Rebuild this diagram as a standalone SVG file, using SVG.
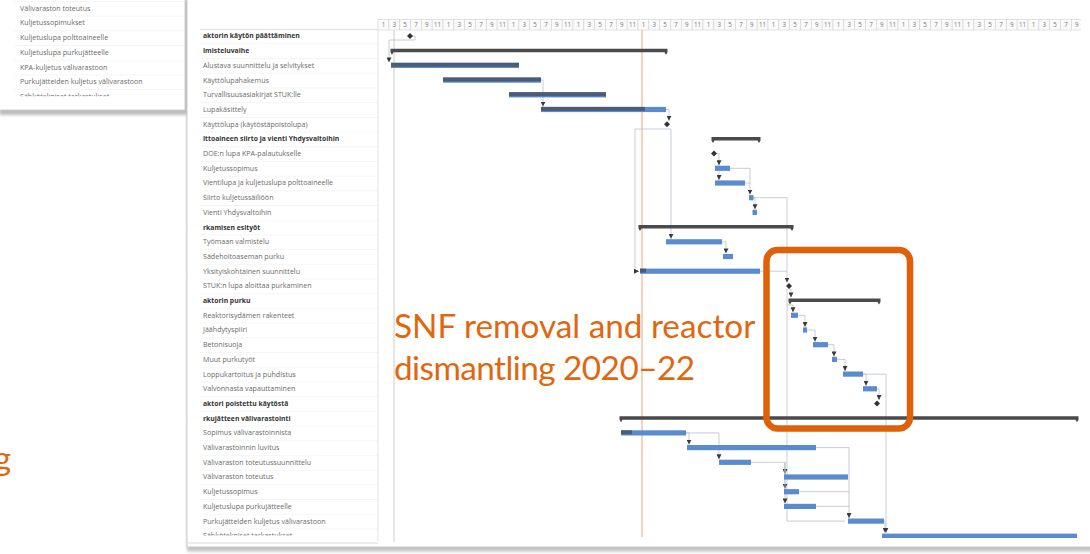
<svg xmlns="http://www.w3.org/2000/svg" xmlns:xlink="http://www.w3.org/1999/xlink" width="1090" height="554" viewBox="0 0 1090 554">
<defs>
<style>
.lbl{font-family:"Open Sans","Liberation Sans",sans-serif;font-size:7.1px;fill:#6a6a6a}
.b{font-weight:700;fill:#333;font-size:6.8px}
.hdr{font-family:"Open Sans","Liberation Sans",sans-serif;font-size:6.2px;fill:#777;text-anchor:middle}
.cell{fill:#fafafa;stroke:#d2d2d2;stroke-width:0.6}
.task{fill:#5b8bcf}
.done{fill:#4b5d76}
.sum{fill:#4a4a4a}
.ms{fill:#333}
.link{fill:none;stroke:#b9c0cc;stroke-width:0.8}
.note{font-family:Lato,"Open Sans",sans-serif;font-size:33.3px;fill:#E2660E}
</style>
<marker id="arr" markerWidth="5" markerHeight="5" refX="5" refY="2.5" orient="auto" markerUnits="userSpaceOnUse"><path d="M0,0 L5,2.5 L0,5 Z" fill="#3a3a3a"/></marker>
<pattern id="rows" width="20" height="14.7" patternUnits="userSpaceOnUse" patternTransform="translate(0,43.35)"><line x1="0" y1="0.3" x2="20" y2="0.3" stroke="#ececec" stroke-width="0.7"/></pattern>
<pattern id="rowsTL" width="20" height="14.7" patternUnits="userSpaceOnUse" patternTransform="translate(0,15.65)"><line x1="0" y1="0.3" x2="20" y2="0.3" stroke="#ececec" stroke-width="0.7"/></pattern>
<filter id="sh" x="-5%" y="-5%" width="110%" height="115%"><feGaussianBlur stdDeviation="1.5"/></filter>
<clipPath id="tableClip"><rect x="188" y="0" width="900" height="535.6"/></clipPath>
<clipPath id="listClip"><rect x="0" y="0" width="185" height="96.2"/></clipPath>
<clipPath id="hdrClip"><rect x="378" y="15" width="703" height="20"/></clipPath>
<g id="yr">
<rect class="cell" x="0" y="19.5" width="10.83" height="10.5"/>
<rect class="cell" x="10.83" y="19.5" width="10.83" height="10.5"/>
<rect class="cell" x="21.67" y="19.5" width="10.83" height="10.5"/>
<rect class="cell" x="32.5" y="19.5" width="10.83" height="10.5"/>
<rect class="cell" x="43.33" y="19.5" width="10.83" height="10.5"/>
<rect class="cell" x="54.17" y="19.5" width="10.83" height="10.5"/>
<text class="hdr" x="5.42" y="27.3">1</text>
<text class="hdr" x="16.25" y="27.3">3</text>
<text class="hdr" x="27.08" y="27.3">5</text>
<text class="hdr" x="37.92" y="27.3">7</text>
<text class="hdr" x="48.75" y="27.3">9</text>
<text class="hdr" x="59.58" y="27.3">11</text>
</g>
</defs>

<rect width="1090" height="554" fill="#fff"/>

<!-- small orange marks along the top edge -->
<rect x="457" y="0" width="4" height="2.5" fill="#E2660E"/>
<rect x="755" y="0" width="8" height="3" fill="#E2660E"/>
<rect x="900" y="0" width="6" height="3" fill="#E2660E"/>

<!-- task list panel, top left -->
<g id="task-list">
<rect x="-2" y="-2" width="189" height="115" fill="#bdbdbd" filter="url(#sh)" transform="translate(1.5,2)"/>
<rect x="-2" y="-2" width="187" height="112" fill="#fff" stroke="#c8c8c8" stroke-width="0.8"/>
<rect x="14" y="0" width="170" height="97" fill="url(#rowsTL)"/>
<g clip-path="url(#listClip)" class="lbl">
<text x="20" y="10.7">Välivaraston toteutus</text>
<text x="20" y="25.4">Kuljetussopimukset</text>
<text x="20" y="40.1">Kuljetuslupa polttoaineelle</text>
<text x="20" y="54.8">Kuljetuslupa purkujätteelle</text>
<text x="20" y="69.5">KPA-kuljetus välivarastoon</text>
<text x="20" y="84.2">Purkujätteiden kuljetus välivarastoon</text>
<text x="20" y="98.9">Sähkötekniset tarkastukset</text>
</g>
</g>

<!-- main schedule panel frame -->
<rect x="187" y="-4" width="910" height="554" fill="#c4c4c4" filter="url(#sh)" transform="translate(0,1.5)"/>
<rect x="187" y="-4" width="910" height="551" fill="#fff" stroke="#c0c0c0" stroke-width="0.8"/>

<!-- label column -->
<rect x="200" y="29.5" width="178" height="508" fill="url(#rows)"/>
<line x1="200" y1="29.5" x2="378" y2="29.5" stroke="#d4d4d4" stroke-width="0.7"/>
<line x1="378" y1="19.5" x2="378" y2="541" stroke="#d4d4d4" stroke-width="0.7"/>
<line x1="188" y1="543" x2="378" y2="543" stroke="#d0d0d0" stroke-width="0.8"/>

<!-- timescale header -->
<g id="timescale" clip-path="url(#hdrClip)">
<use xlink:href="#yr" x="378"/>
<use xlink:href="#yr" x="443"/>
<use xlink:href="#yr" x="508"/>
<use xlink:href="#yr" x="573"/>
<use xlink:href="#yr" x="638"/>
<use xlink:href="#yr" x="703"/>
<use xlink:href="#yr" x="768"/>
<use xlink:href="#yr" x="833"/>
<use xlink:href="#yr" x="898"/>
<use xlink:href="#yr" x="963"/>
<use xlink:href="#yr" x="1028"/>
</g>

<!-- project start line and status date line -->
<line x1="394" y1="30" x2="394" y2="542" stroke="#c6c6c6" stroke-width="0.9"/>
<line x1="642" y1="30" x2="642" y2="537" stroke="#F4A472" stroke-width="1"/>

<!-- dependency links -->
<g id="links" class="link">
<path d="M410,36 H415 V40 H389 V62.4" marker-end="url(#arr)"/>
<path d="M541,80.1 H543 V106.6" marker-end="url(#arr)"/>
<path d="M666,109.5 H669 V120.8" marker-end="url(#arr)"/>
<path d="M667,129 H671 V238.8" marker-end="url(#arr)"/>
<path d="M667,129 H635 V271.2 H639" marker-end="url(#arr)"/>
<path d="M714,153.6 H719 V165.3" marker-end="url(#arr)"/>
<path d="M719,165 V180" marker-end="url(#arr)"/>
<path d="M730,168.3 H750 V194.6" marker-end="url(#arr)"/>
<path d="M745,183 H750"/>
<path d="M753,197.7 H755 V209.3" marker-end="url(#arr)"/>
<path d="M753,197.7 H787 V282.5" marker-end="url(#arr)"/>
<path d="M760,271.2 H787"/>
<path d="M722,241.8 H726 V253.4" marker-end="url(#arr)"/>
<path d="M789,289 H791 V297.4" marker-end="url(#arr)"/>
<path d="M787,289 V521.1 H845"/>
<path d="M787,305 H793 V312.3" marker-end="url(#arr)"/>
<path d="M798,315.3 H805 V327" marker-end="url(#arr)"/>
<path d="M807,330 H815 V341.7" marker-end="url(#arr)"/>
<path d="M828,344.7 H834 V356.4" marker-end="url(#arr)"/>
<path d="M837,359.4 H845 V371.1" marker-end="url(#arr)"/>
<path d="M863,374.1 H866 V385.8" marker-end="url(#arr)"/>
<path d="M863,374.1 H886 V532.8" marker-end="url(#arr)"/>
<path d="M877,388.8 H879 V400" marker-end="url(#arr)"/>
<path d="M884,521.1 H885 V532.8" marker-end="url(#arr)"/>
<path d="M686,432.9 H689 V444.6" marker-end="url(#arr)"/>
<path d="M686,432.9 H719 V459.3" marker-end="url(#arr)"/>
<path d="M751,462.3 H785 V474" marker-end="url(#arr)"/>
<path d="M785,462.3 V488.7" marker-end="url(#arr)"/>
<path d="M785,462.3 V503.4" marker-end="url(#arr)"/>
<path d="M816,447.6 H849 V518.1" marker-end="url(#arr)"/>
<path d="M799,491.7 H849"/>
<path d="M816,506.4 H849"/>
</g>

<!-- schedule rows: label and bar -->
<g class="lbl" clip-path="url(#tableClip)">
<g id="row-01"><text class="b" x="203" y="38.4">aktorin käytön päättäminen</text></g>
<g id="row-02"><text class="b" x="203" y="53.1">lmisteluvaihe</text></g>
<g id="row-03"><text x="203" y="67.8">Alustava suunnittelu ja selvitykset</text></g>
<g id="row-04"><text x="203" y="82.5">Käyttölupahakemus</text></g>
<g id="row-05"><text x="203" y="97.2">Turvallisuusasiakirjat STUK:lle</text></g>
<g id="row-06"><text x="203" y="111.9">Lupakäsittely</text></g>
<g id="row-07"><text x="203" y="126.6">Käyttölupa (käytöstäpoistolupa)</text></g>
<g id="row-08"><text class="b" x="203" y="141.3">lttoaineen siirto ja vienti Yhdysvaltoihin</text></g>
<g id="row-09"><text x="203" y="156">DOE:n lupa KPA-palautukselle</text></g>
<g id="row-10"><text x="203" y="170.7">Kuljetussopimus</text></g>
<g id="row-11"><text x="203" y="185.4">Vientilupa ja kuljetuslupa polttoaineelle</text></g>
<g id="row-12"><text x="203" y="200.1">Siirto kuljetussäiliöön</text></g>
<g id="row-13"><text x="203" y="214.8">Vienti Yhdysvaltoihin</text></g>
<g id="row-14"><text class="b" x="203" y="229.5">rkamisen esityöt</text></g>
<g id="row-15"><text x="203" y="244.2">Työmaan valmistelu</text></g>
<g id="row-16"><text x="203" y="258.9">Sädehoitoaseman purku</text></g>
<g id="row-17"><text x="203" y="273.6">Yksityiskohtainen suunnittelu</text></g>
<g id="row-18"><text x="203" y="288.3">STUK:n lupa aloittaa purkaminen</text></g>
<g id="row-19"><text class="b" x="203" y="303">aktorin purku</text></g>
<g id="row-20"><text x="203" y="317.7">Reaktorisydämen rakenteet</text></g>
<g id="row-21"><text x="203" y="332.4">Jäähdytyspiiri</text></g>
<g id="row-22"><text x="203" y="347.1">Betonisuoja</text></g>
<g id="row-23"><text x="203" y="361.8">Muut purkutyöt</text></g>
<g id="row-24"><text x="203" y="376.5">Loppukartoitus ja puhdistus</text></g>
<g id="row-25"><text x="203" y="391.2">Valvonnasta vapauttaminen</text></g>
<g id="row-26"><text class="b" x="203" y="405.9">aktori poistettu käytöstä</text></g>
<g id="row-27"><text class="b" x="203" y="420.6">rkujätteen välivarastointi</text></g>
<g id="row-28"><text x="203" y="435.3">Sopimus välivarastoinnista</text></g>
<g id="row-29"><text x="203" y="450">Välivarastoinnin luvitus</text></g>
<g id="row-30"><text x="203" y="464.7">Välivaraston toteutussuunnittelu</text></g>
<g id="row-31"><text x="203" y="479.4">Välivaraston toteutus</text></g>
<g id="row-32"><text x="203" y="494.1">Kuljetussopimus</text></g>
<g id="row-33"><text x="203" y="508.8">Kuljetuslupa purkujätteelle</text></g>
<g id="row-34"><text x="203" y="523.5">Purkujätteiden kuljetus välivarastoon</text></g>
<g id="row-35"><text x="203" y="538.2">Sähkötekniset tarkastukset</text></g>
</g>

<g id="bars">
<g id="bar-01"><path class="ms" d="M410,33 L413,36 L410,39 L407,36 Z"/></g>
<g id="bar-02"><path class="sum" d="M390.5,48.7 H667.5 V52.2 L666,54.7 L664.5,52.2 H393.5 L392,54.7 L390.5,52.2 Z"/></g>
<g id="bar-03"><rect class="task" x="391" y="62.8" width="128" height="5.2"/><rect class="done" x="391" y="62.8" width="128" height="4"/></g>
<g id="bar-04"><rect class="task" x="443" y="77.5" width="98" height="5.2"/><rect class="done" x="443" y="77.5" width="98" height="4"/></g>
<g id="bar-05"><rect class="task" x="509" y="92.2" width="97" height="5.2"/><rect class="done" x="509" y="92.2" width="97" height="4"/></g>
<g id="bar-06"><rect class="task" x="541" y="106.9" width="125" height="5.2"/><rect class="done" x="541" y="106.9" width="104" height="4"/></g>
<g id="bar-07"><path class="ms" d="M667,121.2 L670,124.2 L667,127.2 L664,124.2 Z"/></g>
<g id="bar-08"><path class="sum" d="M711.5,136.9 H760.5 V140.4 L759,142.9 L757.5,140.4 H714.5 L713,142.9 L711.5,140.4 Z"/></g>
<g id="bar-09"><path class="ms" d="M714,150.6 L717,153.6 L714,156.6 L711,153.6 Z"/></g>
<g id="bar-10"><rect class="task" x="715" y="165.7" width="15" height="5.2"/></g>
<g id="bar-11"><rect class="task" x="715" y="180.4" width="30" height="5.2"/></g>
<g id="bar-12"><rect class="task" x="749" y="195.1" width="4.5" height="5.2"/></g>
<g id="bar-13"><rect class="task" x="752.5" y="209.8" width="4.5" height="5.2"/></g>
<g id="bar-14"><path class="sum" d="M638.5,225.1 H793.5 V228.6 L792,231.1 L790.5,228.6 H641.5 L640,231.1 L638.5,228.6 Z"/></g>
<g id="bar-15"><rect class="task" x="666" y="239.2" width="56" height="5.2"/></g>
<g id="bar-16"><rect class="task" x="723" y="253.9" width="10" height="5.2"/></g>
<g id="bar-17"><rect class="task" x="640" y="268.6" width="120" height="5.2"/><rect class="done" x="640" y="268.6" width="6" height="4"/></g>
<g id="bar-18"><path class="ms" d="M789,282.9 L792,285.9 L789,288.9 L786,285.9 Z"/></g>
<g id="bar-19"><path class="sum" d="M788.5,298.6 H880.5 V302.1 L879,304.6 L877.5,302.1 H791.5 L790,304.6 L788.5,302.1 Z"/></g>
<g id="bar-20"><rect class="task" x="791" y="312.7" width="7" height="5.2"/></g>
<g id="bar-21"><rect class="task" x="803" y="327.4" width="4" height="5.2"/></g>
<g id="bar-22"><rect class="task" x="813" y="342.1" width="15" height="5.2"/></g>
<g id="bar-23"><rect class="task" x="832" y="356.8" width="5" height="5.2"/></g>
<g id="bar-24"><rect class="task" x="843" y="371.5" width="20" height="5.2"/></g>
<g id="bar-25"><rect class="task" x="863" y="386.2" width="14" height="5.2"/></g>
<g id="bar-26"><path class="ms" d="M877,400.5 L880,403.5 L877,406.5 L874,403.5 Z"/></g>
<g id="bar-27"><path class="sum" d="M619.5,416.2 H1078.5 V419.7 L1077,422.2 L1075.5,419.7 H622.5 L621,422.2 L619.5,419.7 Z"/></g>
<g id="bar-28"><rect class="task" x="621" y="430.3" width="65" height="5.2"/><rect class="done" x="621" y="430.3" width="11" height="4"/></g>
<g id="bar-29"><rect class="task" x="687" y="445" width="129" height="5.2"/></g>
<g id="bar-30"><rect class="task" x="719" y="459.7" width="32" height="5.2"/></g>
<g id="bar-31"><rect class="task" x="784" y="474.4" width="64" height="5.2"/></g>
<g id="bar-32"><rect class="task" x="784" y="489.1" width="15" height="5.2"/></g>
<g id="bar-33"><rect class="task" x="784" y="503.8" width="32" height="5.2"/></g>
<g id="bar-34"><rect class="task" x="848" y="518.5" width="36" height="5.2"/></g>
<g id="bar-35"><rect class="task" x="882" y="533.6" width="195" height="4.4"/></g>
</g>

<!-- highlighted phase -->
<g id="highlight">
<rect x="766.5" y="250" width="143.5" height="178.5" rx="11" fill="none" stroke="#E0600A" stroke-width="6.5"/>
</g>
<g id="caption">
<text class="note" x="394" y="338">SNF removal and reactor</text>
<text class="note" x="394" y="380" textLength="301">dismantling 2020–22</text>
</g>
<text class="note" x="11" y="470" text-anchor="end">g</text>
</svg>
